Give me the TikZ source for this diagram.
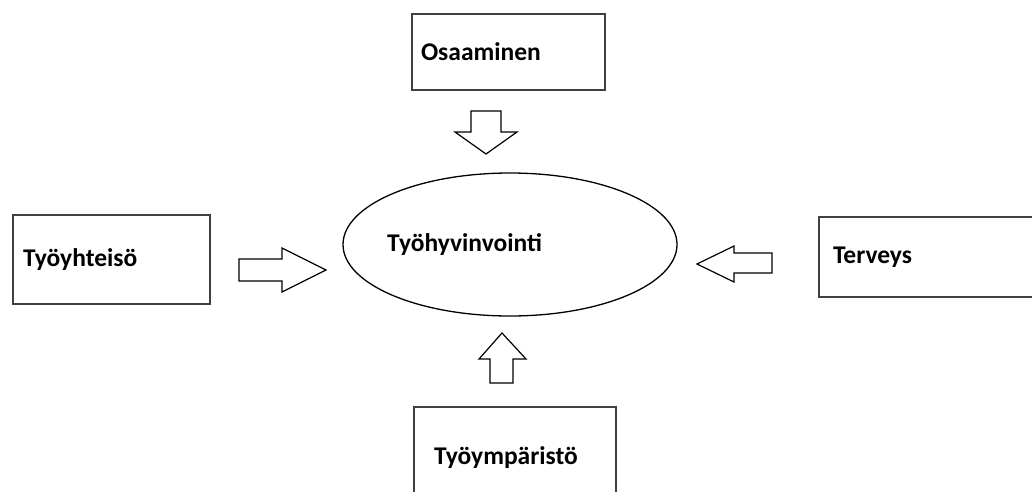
\documentclass[tikz,border=0pt]{standalone}
\usepackage{fontspec}
\setmainfont{Carlito}
\usetikzlibrary{shapes.geometric}

\begin{document}
\begin{tikzpicture}[x=1pt,y=-1pt,
  box/.style={draw=black!75,line width=2pt,anchor=north west,align=left,inner ysep=0pt,font=\fontsize{25.5}{30}\selectfont\bfseries},
  oval/.style={draw,ellipse,line width=1.3pt,inner sep=0pt,minimum width=334pt,minimum height=143pt},
  word/.style={inner sep=0pt,font=\fontsize{25.5}{30}\selectfont\bfseries},
  hollow/.style={draw,line width=1.2pt,line join=miter}]
\clip (0,0) rectangle (1032,491);
\node[box,minimum height=76pt,inner xsep=9pt,text width=175pt] (osaaminen) at (411,13) {Osaaminen};
\node[box,minimum height=89pt,inner xsep=10pt,text width=177pt] (tyoyhteiso) at (12,214) {Työyhteisö};
\node[box,minimum height=80pt,inner xsep=14pt,text width=190pt] (terveys) at (818,216) {Terveys};
\node[box,minimum height=102pt,inner xsep=20pt,text width=162pt] (tyoymparisto) at (413,406) {Työympäristö};
\node[oval] (hub) at (510,244.5) {};
\node[word,anchor=west] (hubtext) at (387,245) {Työhyvinvointi};
\draw[hollow] (471,111) -- (501,111) -- (501,132) -- (517,132) -- (486,154) -- (455,132) -- (471,132) -- cycle;
\draw[hollow] (239,259) -- (282,259) -- (282,248) -- (326,270) -- (282,292) -- (282,281) -- (239,281) -- cycle;
\draw[hollow] (772,253) -- (734,253) -- (734,246) -- (697,264) -- (734,282) -- (734,273) -- (772,273) -- cycle;
\draw[hollow] (490,383) -- (513,383) -- (513,359) -- (526,359) -- (502,333) -- (479,359) -- (490,359) -- cycle;
\end{tikzpicture}
\end{document}
